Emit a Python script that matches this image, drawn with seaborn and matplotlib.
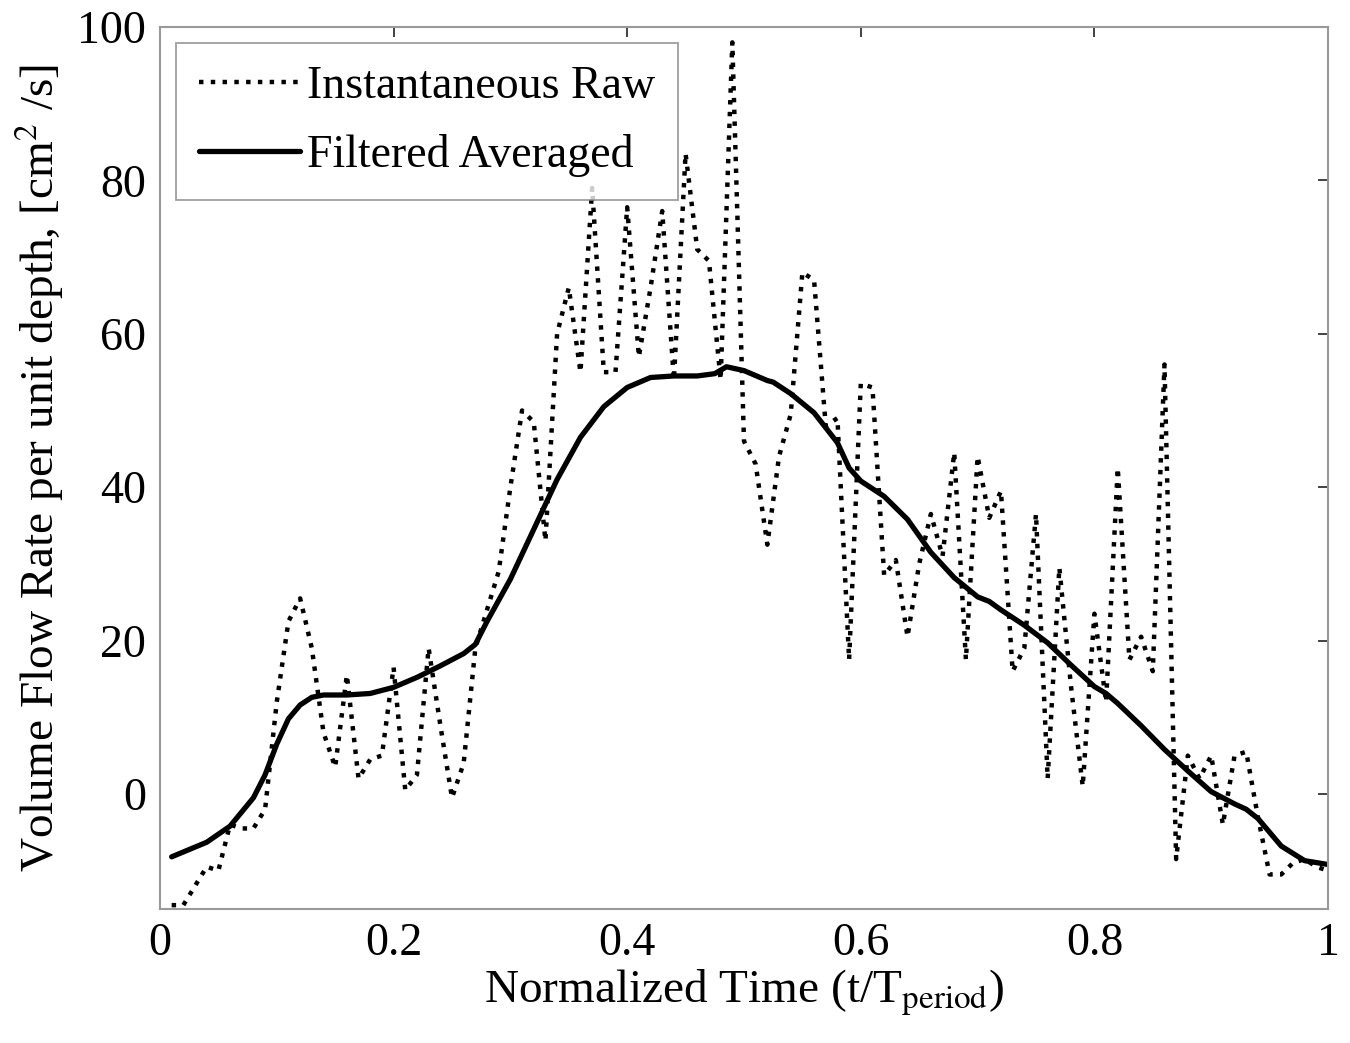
import matplotlib
matplotlib.use("Agg")

import numpy as np
import pandas as pd
import matplotlib.pyplot as plt
import seaborn as sns

# ===============================
# data
# ===============================
raw_time = np.round(np.arange(1, 101) * 0.01, 2)
raw_flow = [
    -14.5, -14.5, -12.0, -9.5, -10.0, -4.0, -4.5, -4.5, -2.0, 12.0,
    22.5, 25.5, 19.0, 8.0, 3.5, 15.5, 2.0, 4.5, 5.0, 16.5,
    0.5, 2.5, 19.0, 9.0, -0.5, 4.0, 19.0, 24.0, 29.0, 40.0,
    50.0, 48.5, 33.0, 60.0, 66.0, 55.0, 79.0, 55.0, 55.0, 76.5,
    57.0, 66.0, 76.0, 54.0, 83.5, 71.0, 69.5, 54.0, 98.0, 46.0,
    43.0, 32.5, 44.0, 49.5, 68.0, 67.0, 48.0, 49.0, 17.5, 53.5,
    53.0, 28.5, 30.5, 20.5, 30.0, 36.5, 31.0, 44.5, 17.5, 44.0,
    36.0, 39.5, 16.0, 19.0, 36.5, 2.0, 29.5, 14.0, 1.0, 23.5,
    12.0, 42.5, 17.5, 20.5, 16.0, 56.0, -8.5, 5.0, 2.0, 5.0,
    -4.0, 5.0, 5.5, -3.0, -10.5, -10.5, -9.0, -8.5, -9.5, -10.0,
]

filt_time = [
    0.01, 0.04, 0.06, 0.08, 0.09, 0.10, 0.11, 0.12, 0.13, 0.14,
    0.16, 0.18, 0.20, 0.22, 0.24, 0.26, 0.27, 0.28, 0.30, 0.32,
    0.34, 0.36, 0.38, 0.40, 0.42, 0.44, 0.46, 0.475, 0.485, 0.50,
    0.52, 0.525, 0.54, 0.56, 0.58, 0.59, 0.60, 0.62, 0.64, 0.66,
    0.68, 0.70, 0.71, 0.72, 0.74, 0.76, 0.78, 0.80, 0.81, 0.82,
    0.84, 0.86, 0.88, 0.90, 0.92, 0.93, 0.94, 0.96, 0.98, 1.00,
]
filt_flow = [
    -8.2, -6.3, -4.2, -0.5, 2.5, 6.5, 9.8, 11.6, 12.6, 12.9,
    12.9, 13.1, 13.9, 15.2, 16.7, 18.3, 19.5, 22.5, 28.0, 34.5,
    41.0, 46.5, 50.5, 53.0, 54.3, 54.5, 54.5, 54.8, 55.7, 55.2,
    53.9, 53.7, 52.2, 49.7, 45.8, 42.5, 40.8, 38.8, 35.8, 31.5,
    28.2, 25.7, 25.1, 24.0, 22.0, 19.7, 16.8, 14.0, 13.1, 11.8,
    8.9, 5.8, 3.0, 0.3, -1.3, -2.0, -3.2, -6.8, -8.7, -9.2,
]

x_ticks = [0, 0.2, 0.4, 0.6, 0.8, 1]
x_tick_labels = ['0', '0.2', '0.4', '0.6', '0.8', '1']
y_ticks = [0, 20, 40, 60, 80, 100]

raw_df = pd.DataFrame({'t': raw_time, 'q': raw_flow})
filt_df = pd.DataFrame({'t': filt_time, 'q': filt_flow})

# ===============================
# style
# ===============================
sns.set_style("white")
plt.rcParams['font.family'] = ['Liberation Serif', 'DejaVu Serif']
plt.rcParams['mathtext.fontset'] = 'stix'
plt.rcParams['text.color'] = 'black'
plt.rcParams['axes.labelcolor'] = 'black'
plt.rcParams['xtick.color'] = 'black'
plt.rcParams['ytick.color'] = 'black'

fig = plt.figure(figsize=(13.5, 10.43), dpi=100)
ax = fig.add_axes([0.1185, 0.1285, 0.8652, 0.8456])

sns.lineplot(data=raw_df, x='t', y='q', ax=ax, color='black',
             linestyle=':', linewidth=3.2, label='Instantaneous Raw')
sns.lineplot(data=filt_df, x='t', y='q', ax=ax, color='black',
             linestyle='-', linewidth=3.8, label='Filtered Averaged')

ax.set_xlim(0, 1)
ax.set_ylim(-15, 100)
ax.set_xticks(x_ticks)
ax.set_xticklabels(x_tick_labels)
ax.set_yticks(y_ticks)

ax.tick_params(direction='in', length=7, width=1.2, labelsize=33,
               top=True, right=True, color='#222222', pad=10)
for s in ax.spines.values():
    s.set_color('#999999')
    s.set_linewidth(1.5)

ax.set_xlabel('Normalized Time (t/T$_{\\mathrm{period}}$)', fontsize=34, labelpad=2)
ax.set_ylabel('Volume Flow Rate per unit depth, [cm$^{2}$ /s]', fontsize=34, labelpad=8)

leg = ax.legend(loc='upper left', fontsize=33, frameon=True, fancybox=False,
                handlelength=2.2, handletextpad=0.15, borderpad=0.5,
                labelspacing=0.55, borderaxespad=0.35)
leg.get_frame().set_edgecolor('#888888')
leg.get_frame().set_linewidth(1.3)

fig.savefig('out.png', dpi=100)
plt.close(fig)
